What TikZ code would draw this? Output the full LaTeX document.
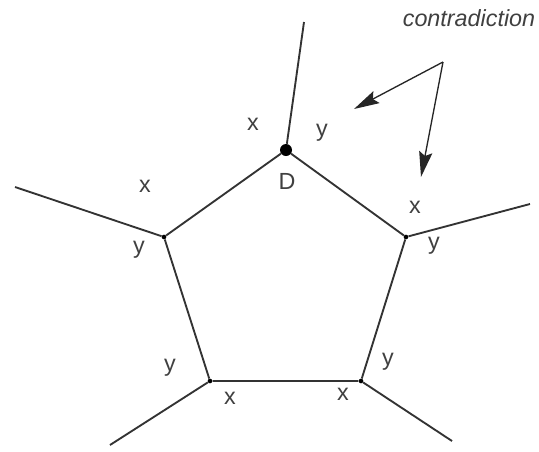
\documentclass[tikz,border=0pt]{standalone}
\usepackage{fontspec}
\setmainfont{Liberation Sans}
\usepackage{tikz}
\usetikzlibrary{shapes,arrows.meta,positioning}

\begin{document}
\begin{tikzpicture}[x=0.75pt,y=-0.75pt,
  every node/.style={font=\fontsize{17.5}{20}\selectfont,text=black!75},
  vert/.style={circle,fill=black,inner sep=0pt,minimum size=3.5pt},
  edge/.style={line width=1.4pt,draw=black!80},
  tip/.style={line width=1pt,draw=black!85,-{Stealth[length=19pt,width=10pt,inset=3pt]}}]
\useasboundingbox (0,0) rectangle (539,451);

% Vertices of the pentagon
\node[vert,minimum size=9pt] (D) at (286,150) {};
\node[vert] (vl) at (164,237) {};
\node[vert] (vr) at (406,237) {};
\node[vert] (bl) at (210,381) {};
\node[vert] (br) at (361,381) {};

% Free ends
\coordinate (eD) at (304,22);
\coordinate (el) at (15,187);
\coordinate (er) at (530,204);
\coordinate (ebl) at (110,445);
\coordinate (ebr) at (452,441);

% Pentagon
\draw[edge] (D) -- (vr) -- (br) -- (bl) -- (vl) -- (D);

% Spokes
\draw[edge] (D) -- (eD);
\draw[edge] (vl) -- (el);
\draw[edge] (vr) -- (er);
\draw[edge] (bl) -- (ebl);
\draw[edge] (br) -- (ebr);

% Labels
\node (lD) at (287,181) {D};
\node (x1) at (253,124) {x};
\node (y1) at (322,133) {y};
\node (x2) at (145,186) {x};
\node (y2) at (139,250) {y};
\node (x3) at (415,207) {x};
\node (y3) at (434,246) {y};
\node (y4) at (170,368) {y};
\node (x4) at (230,398) {x};
\node (x5) at (343,394) {x};
\node (y5) at (388,362) {y};

% Contradiction
\node[font=\fontsize{17.5}{20}\selectfont\itshape] (con) at (469,18) {contradiction};
\coordinate (apex) at (443,62);
\coordinate (t1) at (354,109);
\coordinate (t2) at (421,177);
\draw[tip] (apex) -- (t1);
\draw[tip] (apex) -- (t2);

\end{tikzpicture}
\end{document}
